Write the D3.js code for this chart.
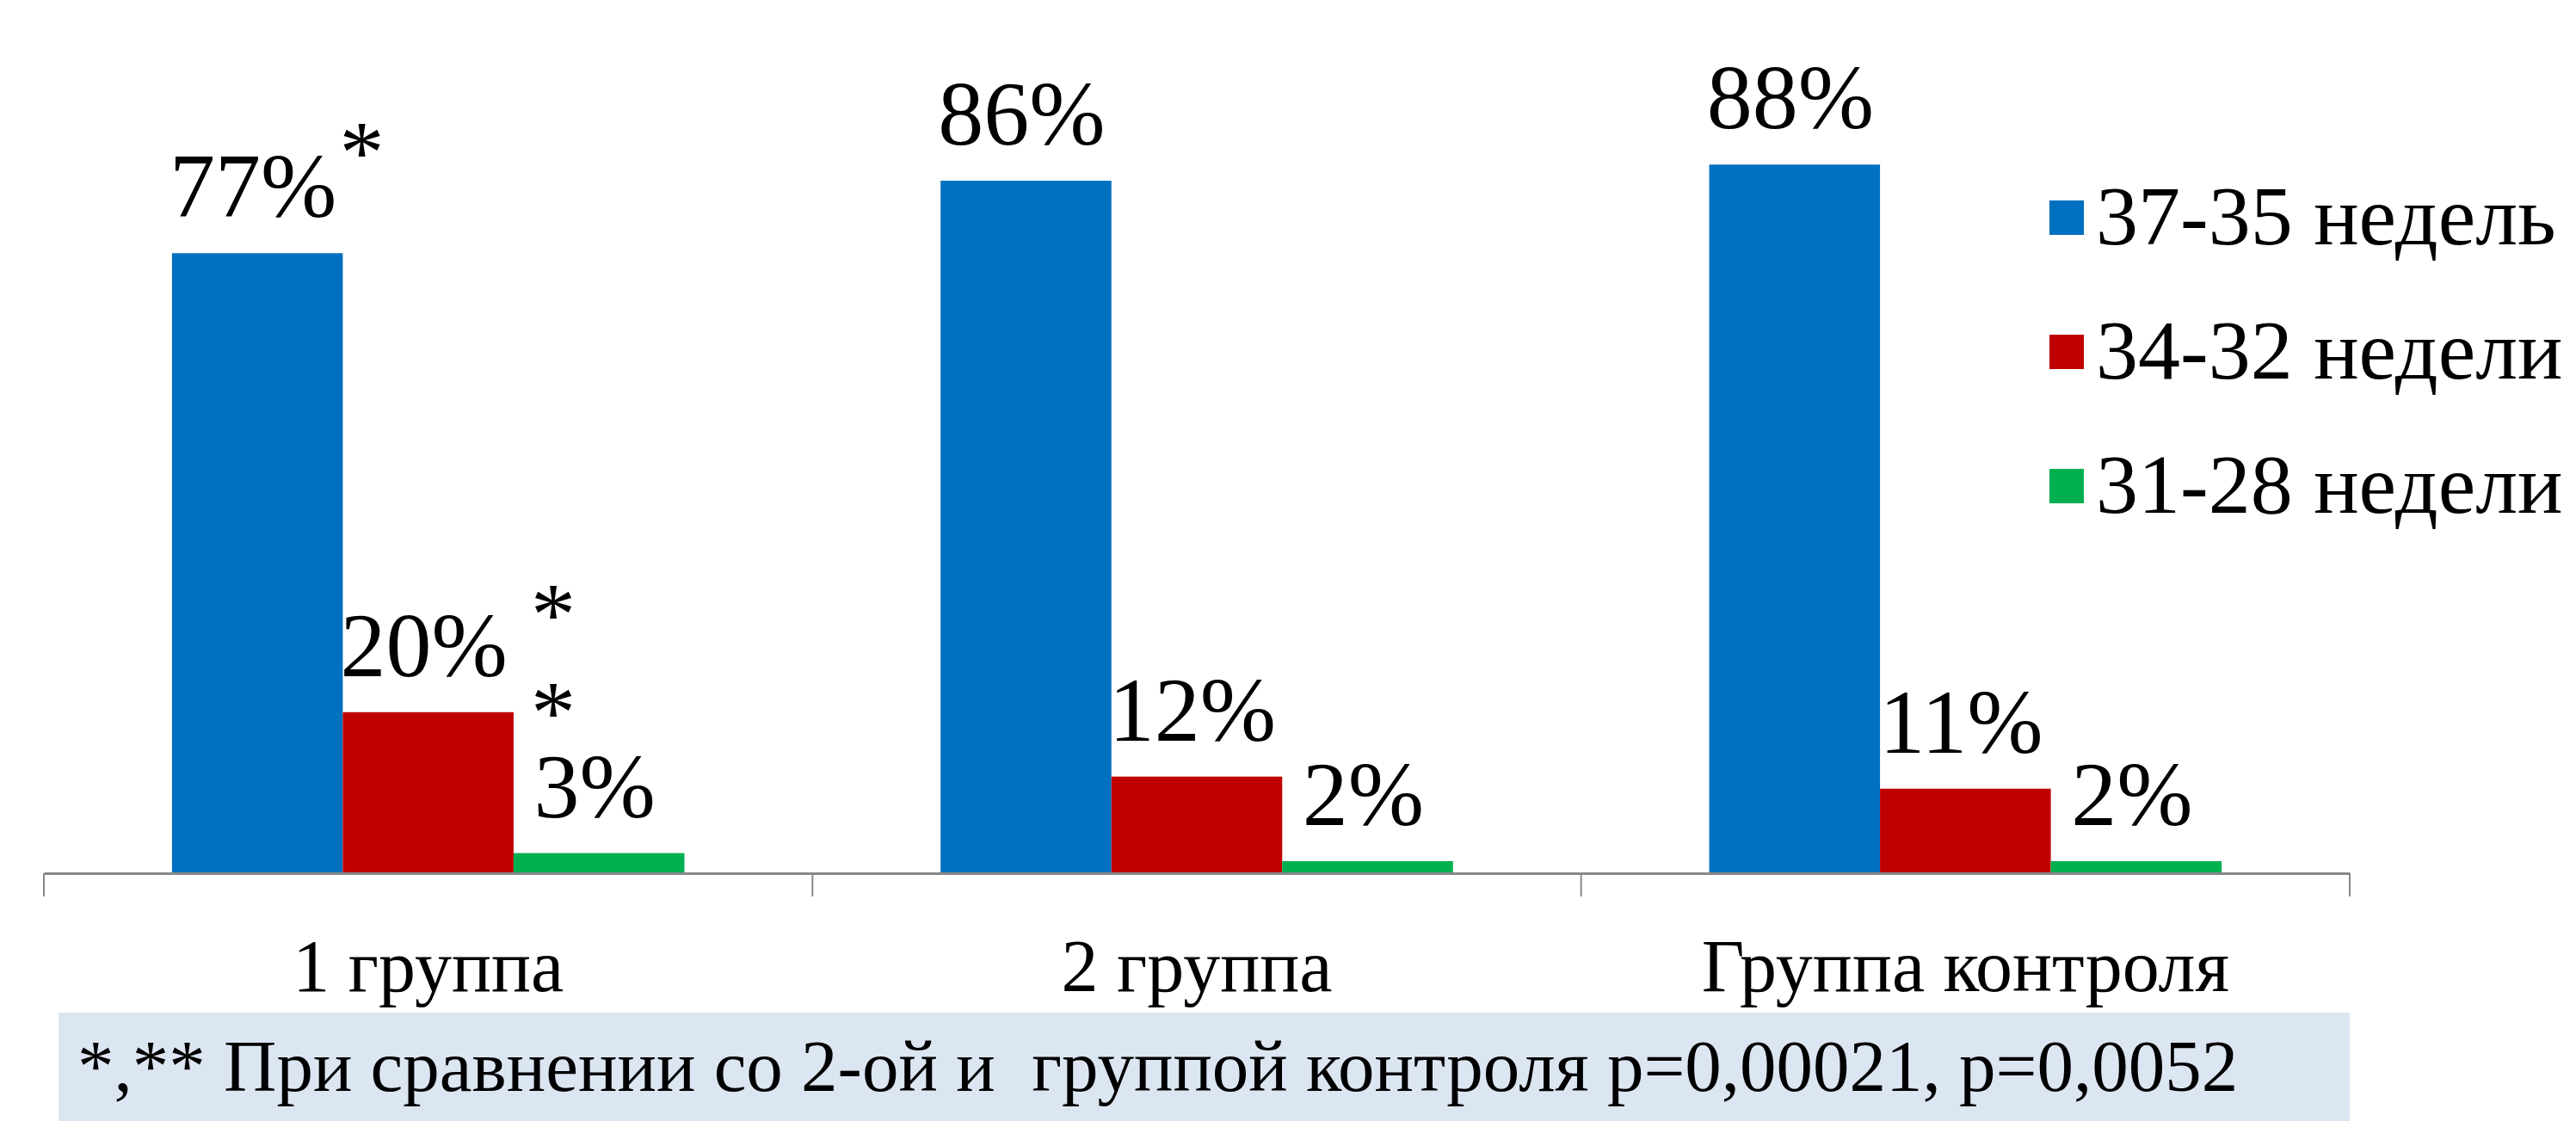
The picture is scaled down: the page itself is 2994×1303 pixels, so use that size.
<!DOCTYPE html>
<html>
<head>
<meta charset="utf-8">
<script src="https://cdn.jsdelivr.net/npm/d3@7"></script>
<style>
  html, body { margin: 0; padding: 0; background: #ffffff; }
  svg { display: block; }
</style>
</head>
<body>
<svg id="chart" width="2994" height="1303"></svg>
<script>
// ---- data ----
const categories = ["1 группа", "2 группа", "Группа контроля"];
const seriesNames = ["37-35 недель", "34-32 недели", "31-28 недели"];
const seriesColors = ["#0070c0", "#c00000", "#00b050"];
const weeks37_35 = [77, 86, 88];
const weeks34_32 = [20, 12, 10.5];
const weeks31_28 = [2.5, 1.5, 1.5];
const footnote = "*,** При сравнении со 2-ой и  группой контроля р=0,00021, р=0,0052";

const seriesValues = [weeks37_35, weeks34_32, weeks31_28];
const table = categories.map((c, i) => ({
  category: c,
  values: seriesNames.map((s, j) => ({ series: s, index: j, value: seriesValues[j][i] }))
}));

const FONT = "'Liberation Serif', 'Times New Roman', serif";
const svg = d3.select("#chart").style("font-family", FONT);

const axisY = 1015;
const x0 = d3.scaleBand().domain(categories).range([51, 2731]).paddingInner(0).paddingOuter(0);
const x1 = d3.scaleBand().domain(seriesNames).range([0, x0.bandwidth()]).paddingInner(0).paddingOuter(0.75);
const y = d3.scaleLinear().domain([0, 100]).range([axisY, axisY - 936]);
const color = d3.scaleOrdinal().domain(seriesNames).range(seriesColors);

// bars
const groups = svg.append("g").selectAll("g").data(table).join("g")
  .attr("transform", d => `translate(${x0(d.category)},0)`);

groups.selectAll("rect").data(d => d.values).join("rect")
  .attr("x", d => x1(d.series))
  .attr("y", d => y(d.value))
  .attr("width", x1.bandwidth())
  .attr("height", d => y(0) - y(d.value))
  .attr("fill", d => color(d.series));

// value labels
groups.selectAll("text.val").data(d => d.values).join("text")
  .attr("class", "val")
  .attr("x", d => x1(d.series) + x1.bandwidth() / 2 - 5)
  .attr("y", d => y(d.value) - 42)
  .attr("text-anchor", "middle")
  .style("font-family", FONT)
  .style("font-size", "106px")
  .attr("fill", "#000")
  .text(d => Math.round(d.value) + "%");

// significance asterisks (group 1)
const g1 = x0(categories[0]);
svg.append("text")
  .attr("x", g1 + x1(seriesNames[0]) + x1.bandwidth() - 4)
  .attr("y", y(weeks37_35[0]) - 82)
  .style("font-family", FONT)
  .style("font-size", "104px")
  .attr("fill", "#000")
  .text("*");
[0, 1].forEach(k => {
  svg.append("text")
    .attr("x", g1 + x1(seriesNames[2]) + 46)
    .attr("y", y(weeks34_32[0]) - 79 + k * 114)
    .attr("text-anchor", "middle")
    .style("font-family", FONT)
    .style("font-size", "104px")
    .attr("fill", "#000")
    .text("*");
});

// x axis
const axis = svg.append("g")
  .attr("transform", `translate(0,${axisY})`)
  .call(d3.axisBottom(x0).tickSizeInner(0).tickSizeOuter(0).tickPadding(0));
axis.attr("font-family", null).attr("font-size", null);
axis.select(".domain").attr("stroke", "#888888").attr("stroke-width", 3);
axis.selectAll(".tick text")
  .attr("y", 137).attr("dy", 0)
  .style("font-family", FONT)
  .style("font-size", "86px")
  .attr("fill", "#000");

// category boundary ticks
const bounds = categories.map(c => x0(c)).concat([x0.range()[1]]);
svg.append("g").selectAll("line").data(bounds).join("line")
  .attr("x1", d => d).attr("x2", d => d)
  .attr("y1", axisY).attr("y2", axisY + 27)
  .attr("stroke", "#888888").attr("stroke-width", 2);

// legend
const legend = svg.append("g").selectAll("g").data(seriesNames).join("g")
  .attr("transform", (d, i) => `translate(2382,${253 + i * 156})`);
legend.append("rect")
  .attr("x", 0).attr("y", -20).attr("width", 40).attr("height", 40)
  .attr("fill", d => color(d));
legend.append("text")
  .attr("x", 54).attr("y", 31)
  .style("font-family", FONT)
  .style("font-size", "98px")
  .attr("fill", "#000")
  .text(d => d);

// footnote box
svg.append("rect")
  .attr("x", 68).attr("y", 1177).attr("width", 2663).attr("height", 126)
  .attr("fill", "#dce6f2");
svg.append("text")
  .attr("x", 90).attr("y", 1268)
  .style("font-family", FONT)
  .style("font-size", "85px")
  .style("white-space", "pre")
  .attr("fill", "#000")
  .text(footnote);
</script>
</body>
</html>
